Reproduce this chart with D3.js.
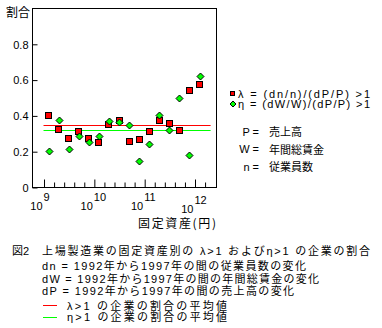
<!DOCTYPE html>
<html>
<head>
<meta charset="utf-8">
<script src="https://cdn.jsdelivr.net/npm/d3@7"></script>
<style>
  body { margin: 0; background: #fff; }
  svg { display: block; }
  text { fill: #000; }
</style>
</head>
<body>
<svg id="chart" width="382" height="328"></svg>
<script>
// Fixed assets (yen), as powers of ten: one bin every 0.2 decade
const assetExponents = [9.1, 9.3, 9.5, 9.7, 9.9, 10.1, 10.3, 10.5, 10.7, 10.9, 11.1, 11.3, 11.5, 11.7, 11.9, 12.1];
// Share of firms with λ > 1 in each bin
const lambdaShare = [0.40, 0.32, 0.27, 0.31, 0.27, 0.25, 0.35, 0.37, 0.255, 0.265, 0.31, 0.37, 0.355, 0.315, 0.54, 0.57];
// Share of firms with η > 1 in each bin
const etaShare = [0.20, 0.375, 0.21, 0.285, 0.25, 0.285, 0.37, 0.365, 0.345, 0.145, 0.24, 0.40, 0.32, 0.495, 0.18, 0.62];

const yTickValues = [0, 0.2, 0.4, 0.6, 0.8];
const decadeTicks = [9, 10, 11, 12];
const minorTicks = [9.2, 9.4, 9.6, 9.8, 10.2, 10.4, 10.6, 10.8, 11.2, 11.4, 11.6, 11.8, 12.2];
const meanSpan = [9.0, 12.32];

const legendItems = [
  { key: "lambda", label: "λ = (dn/n)/(dP/P) >1" },
  { key: "eta", label: "η = (dW/W)/(dP/P) >1" }
];
const symbolNotes = [
  { sym: "P =", text: "売上高" },
  { sym: "W =", text: "年間総賃金" },
  { sym: "n =", text: "従業員数" }
];
const captionTitle = "図2";
const captionLines = [
  "上場製造業の固定資産別の λ>1 およびη>1 の企業の割合",
  "dn = 1992年から1997年の間の従業員数の変化",
  "dW = 1992年から1997年の間の年間総賃金の変化",
  "dP = 1992年から1997年の間の売上高の変化"
];
const meanNotes = [
  { key: "lambda", text: "λ>1 の企業の割合の平均値" },
  { key: "eta", text: "η>1 の企業の割合の平均値" }
];

const RED = "#ff0000", GREEN = "#00ff00";
const FONT = "'Liberation Sans', 'Noto Sans CJK JP', sans-serif";
const JP = "'Noto Sans CJK JP', sans-serif";

const svg = d3.select("#chart");
const plot = { left: 32, top: 8, right: 216, bottom: 187 };

const x = d3.scaleLog()
  .domain([Math.pow(10, 8.771), Math.pow(10, 12.427)])
  .range([plot.left, plot.right]);
const y = d3.scaleLinear().domain([0, 1]).range([plot.bottom, plot.top]);

// frame
svg.append("rect")
  .attr("x", plot.left + 0.5).attr("y", plot.top + 0.5)
  .attr("width", plot.right - plot.left).attr("height", plot.bottom - plot.top)
  .attr("fill", "none").attr("stroke", "#000");

// x axis: minor ticks and decade ticks, pointing inward, no built-in labels
const xMinor = svg.append("g")
  .attr("transform", `translate(0.5,${plot.bottom + 0.5})`)
  .call(d3.axisBottom(x).tickValues(minorTicks.map(e => Math.pow(10, e)))
    .tickSizeInner(-5).tickSizeOuter(0).tickFormat(""));
xMinor.select(".domain").remove();
xMinor.selectAll("text").remove();

const xMajor = svg.append("g")
  .attr("transform", `translate(0.5,${plot.bottom + 0.5})`)
  .call(d3.axisBottom(x).tickValues(decadeTicks.map(e => Math.pow(10, e)))
    .tickSizeInner(-8).tickSizeOuter(0).tickFormat(""));
xMajor.select(".domain").remove();
xMajor.selectAll("text").remove();

// y axis, ticks pointing inward
const yAxis = svg.append("g")
  .attr("transform", `translate(${plot.left + 0.5},0.5)`)
  .call(d3.axisLeft(y).tickValues(yTickValues)
    .tickSizeInner(-5).tickSizeOuter(0).tickPadding(4)
    .tickFormat(d => d === 0 ? "0" : d3.format(".1f")(d)));
yAxis.select(".domain").remove();
yAxis.selectAll("text").attr("font-family", FONT).attr("font-size", 11).attr("dy", "0.35em");
svg.selectAll(".tick line").attr("stroke", "#000");

// decade labels written as 10 with a raised exponent
const labels = svg.append("g").attr("font-family", FONT).attr("font-size", 11);
decadeTicks.forEach(e => {
  const tx = x(Math.pow(10, e));
  const dy = e === 12 ? 3 : 0;
  labels.append("text").attr("x", tx - 1).attr("y", 210 + dy)
    .attr("text-anchor", "end").text("10");
  labels.append("text").attr("x", tx).attr("y", 201 + dy)
    .attr("text-anchor", "start").text(String(e));
});

// axis titles
svg.append("text").attr("x", 6).attr("y", 17)
  .attr("font-family", JP).attr("font-size", 12).text("割合");
svg.append("text").attr("x", 138).attr("y", 227.5)
  .attr("font-family", JP).attr("font-size", 12)
  .attr("textLength", 78).attr("lengthAdjust", "spacing").text("固定資産(円)");

// mean lines
const means = { lambda: d3.mean(lambdaShare), eta: d3.mean(etaShare) };
const colorOf = { lambda: RED, eta: GREEN };
["lambda", "eta"].forEach(k => {
  svg.append("line")
    .attr("x1", x(Math.pow(10, meanSpan[0]))).attr("x2", x(Math.pow(10, meanSpan[1])))
    .attr("y1", Math.round(y(means[k])) + 0.5).attr("y2", Math.round(y(means[k])) + 0.5)
    .attr("stroke", colorOf[k]).attr("stroke-width", 1);
});

// markers
const points = assetExponents.map((e, i) => ({ e, lambda: lambdaShare[i], eta: etaShare[i] }));
const sq = 7;
svg.append("g").selectAll("rect").data(points).join("rect")
  .attr("x", d => Math.round(x(Math.pow(10, d.e)) - sq / 2) + 0.5)
  .attr("y", d => Math.round(y(d.lambda) - sq / 2) + 0.5)
  .attr("width", sq - 1).attr("height", sq - 1)
  .attr("fill", RED).attr("stroke", "#000");

const diamond = (cx, cy, r) => `M${cx},${cy - r}L${cx + r},${cy}L${cx},${cy + r}L${cx - r},${cy}Z`;
svg.append("g").selectAll("path").data(points).join("path")
  .attr("d", d => diamond(Math.round(x(Math.pow(10, d.e))) + 0.5, Math.round(y(d.eta)) + 0.5, 3.5))
  .attr("fill", GREEN).attr("stroke", "#000");

// legend
const legend = svg.append("g").attr("font-family", FONT).attr("font-size", 11);
legendItems.forEach((item, i) => {
  const cy = 93.5 + i * 10.5;
  if (item.key === "lambda") {
    legend.append("rect").attr("x", 230.5).attr("y", Math.round(cy - 2.5) + 0.5)
      .attr("width", 4).attr("height", 4).attr("fill", RED).attr("stroke", "#000");
  } else {
    legend.append("path").attr("d", diamond(233, cy, 3)).attr("fill", GREEN).attr("stroke", "#000");
  }
  legend.append("text").attr("x", 238).attr("y", cy + 4)
    .attr("textLength", 132).attr("lengthAdjust", "spacing").text(item.label);
});
symbolNotes.forEach((n, i) => {
  const cy = 131.5 + i * 17.7;
  legend.append("text").attr("x", 259).attr("y", cy + 4).attr("text-anchor", "end").text(n.sym);
  legend.append("text").attr("x", 269).attr("y", cy + 4.5)
    .attr("font-family", JP).attr("font-size", 11).text(n.text);
});

// caption
const cap = svg.append("g").attr("font-family", FONT).attr("font-size", 11);
cap.append("text").attr("x", 12).attr("y", 255).text(captionTitle);
const capBase = [255, 270, 283, 295];
const capWidths = [328, 264, 277, 252];
captionLines.forEach((t, i) => {
  cap.append("text").attr("x", 42).attr("y", capBase[i])
    .attr("textLength", capWidths[i]).attr("lengthAdjust", "spacing").text(t);
});
meanNotes.forEach((m, i) => {
  const cy = 305 + i * 11.5;
  cap.append("line").attr("x1", 43).attr("x2", 57)
    .attr("y1", Math.round(cy) + 0.5).attr("y2", Math.round(cy) + 0.5)
    .attr("stroke", colorOf[m.key]);
  cap.append("text").attr("x", 67).attr("y", cy + 4.5)
    .attr("textLength", 160).attr("lengthAdjust", "spacing").text(m.text);
});
</script>
</body>
</html>
